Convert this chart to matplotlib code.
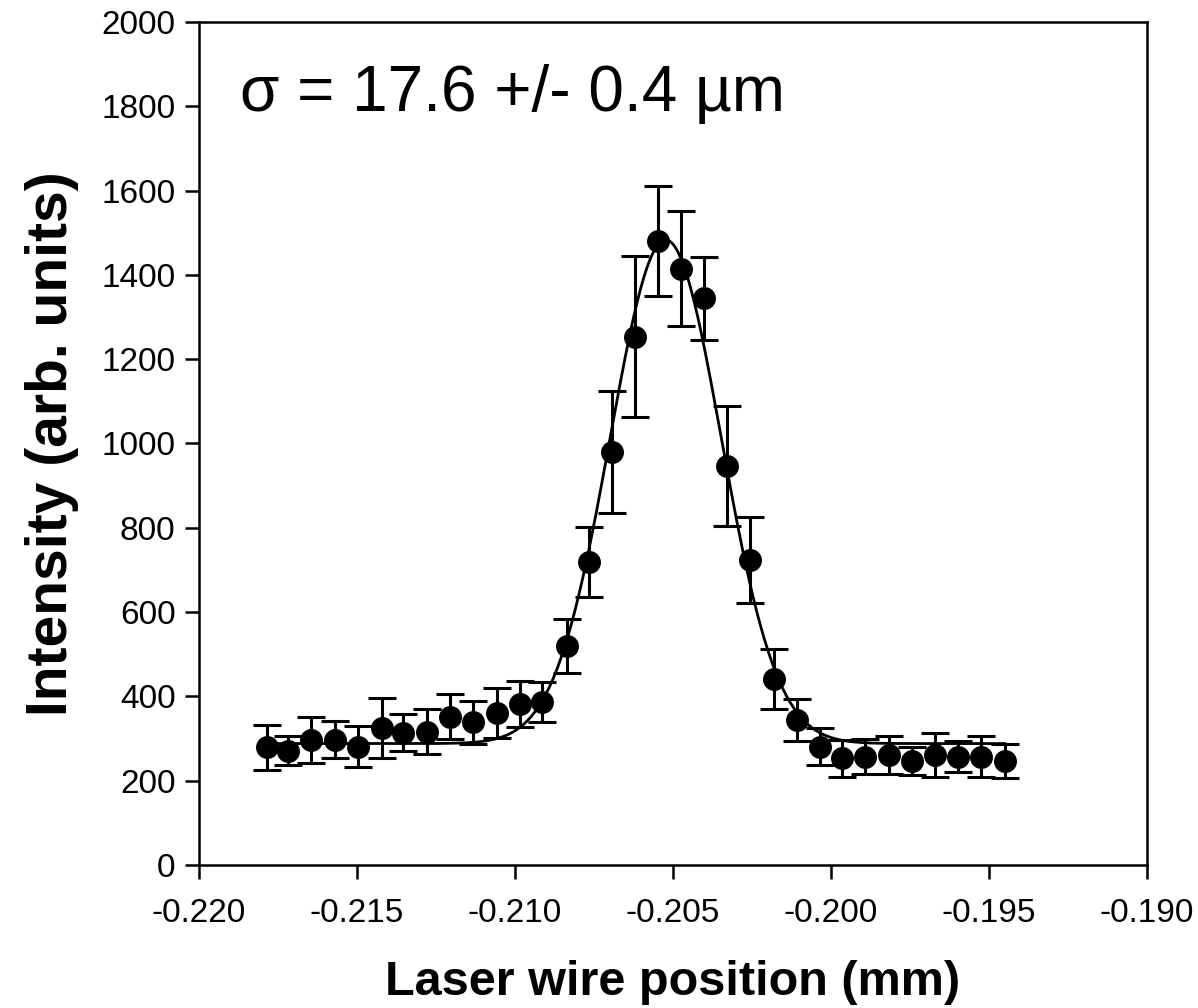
import numpy as np
import matplotlib.pyplot as plt

# laser wire scan: position (mm), signal and its error
position = [-0.21786, -0.21718, -0.21644, -0.21570, -0.21496, -0.21422,
            -0.21354, -0.21280, -0.21206, -0.21132, -0.21058, -0.20984,
            -0.20915, -0.20836, -0.20767, -0.20693, -0.20619, -0.20546,
            -0.20475, -0.20401, -0.20329, -0.20255, -0.20181, -0.20109,
            -0.20035, -0.19964, -0.19891, -0.19817, -0.19743, -0.19672,
            -0.19597, -0.19524, -0.19450]
intensity = [279, 271, 297, 297, 281, 324, 314, 316, 352, 338, 361, 382,
             387, 519, 718, 979, 1253, 1480, 1415, 1344, 947, 723, 441, 344,
             281, 253, 257, 261, 247, 261, 257, 257, 247]
intensity_err = [53, 34, 55, 44, 49, 71, 43, 53, 54, 52, 60, 54, 47, 64,
                 83, 145, 191, 130, 137, 98, 142, 102, 72, 50, 45, 44, 42,
                 44, 33, 52, 37, 48, 40]

# gaussian fit: offset, amplitude, centre (mm), sigma (mm)
fit_offset = 288.0
fit_amp = 1195.0
fit_centre = -0.20523
fit_sigma = 0.00176


def gauss(x, b, a, x0, s):
    return b + a * np.exp(-(x - x0) ** 2 / (2 * s ** 2))


plt.rcParams['font.family'] = ['Liberation Sans', 'DejaVu Sans']

fig = plt.figure(figsize=(11.98, 10.08), dpi=100)
ax = fig.add_axes([0.1661, 0.1419, 0.7913, 0.8363])

xf = np.linspace(position[0], position[-1], 400)
ax.plot(xf, gauss(xf, fit_offset, fit_amp, fit_centre, fit_sigma),
        color='black', linewidth=2.0, zorder=2)
ax.errorbar(position, intensity, yerr=intensity_err, fmt='o', color='black',
            markersize=15.5, elinewidth=2.2, capsize=10, capthick=2.2, zorder=3)

ax.set_xlim(-0.220, -0.190)
ax.set_ylim(0, 2000)
ax.set_xticks(np.arange(-0.220, -0.1899, 0.005))
ax.set_xticklabels(['-0.220', '-0.215', '-0.210', '-0.205', '-0.200',
                    '-0.195', '-0.190'])
ax.set_yticks(range(0, 2001, 200))

for sp in ax.spines.values():
    sp.set_linewidth(1.8)
ax.tick_params(direction='out', length=10, width=1.8, labelsize=24)
ax.tick_params(axis='x', pad=14)
ax.tick_params(axis='y', pad=7)

ax.set_xlabel('Laser wire position (mm)', fontsize=35, fontweight='bold',
              labelpad=22)
ax.set_ylabel('Intensity (arb. units)', fontsize=41, fontweight='bold',
              labelpad=16)

ax.text(0.043, 0.95, 'σ = 17.6 +/- 0.4 µm', transform=ax.transAxes,
        fontsize=46, va='top', ha='left',
        bbox=dict(facecolor='white', edgecolor='none', pad=8))

fig.savefig('out.png', dpi=100)
